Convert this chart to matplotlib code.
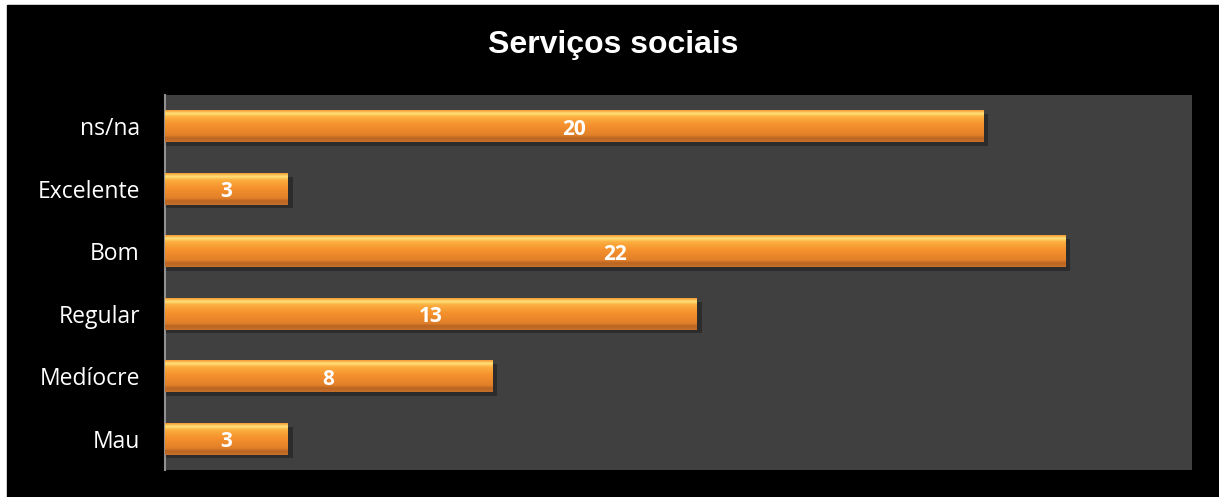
import numpy as np
import matplotlib.pyplot as plt
from matplotlib.colors import LinearSegmentedColormap
from matplotlib.patches import Rectangle

plt.rcParams['font.family'] = ['Open Sans', 'DejaVu Sans']

categories = ['Mau', 'Medíocre', 'Regular', 'Bom', 'Excelente', 'ns/na']
values = [3, 8, 13, 22, 3, 20]
title = 'Serviços sociais'

fig = plt.figure(figsize=(12.19, 4.97), dpi=100, facecolor='white')
fig.patches.append(Rectangle((7 / 1219, 0), 1 - 7 / 1219, 1 - 5 / 497,
                             transform=fig.transFigure, color='black', zorder=-10))
ax = fig.add_axes([165 / 1219, 27 / 497, 1027 / 1219, 375 / 497])
ax.set_facecolor('#404040')

# vertical gradient for the bevelled bars (top -> bottom)
grad = LinearSegmentedColormap.from_list('bar', [
    (0.0, '#c8702a'), (0.12, '#b96522'), (0.2, '#e07f28'),
    (0.55, '#f7922e'), (0.8, '#fbb040'), (0.9, '#ffe27a'), (1.0, '#f59a35')])
g = np.linspace(0, 1, 64).reshape(-1, 1)

h = 0.51
y = np.arange(len(categories))
for yi, v in zip(y, values):
    # shadow
    ax.add_patch(Rectangle((0, yi - h / 2 - 0.06), v + 0.12, h, color='black',
                           alpha=0.3, lw=0, zorder=1))
    bar = ax.barh(yi, v, height=h, color='#f7922e', zorder=2)[0]
    im = ax.imshow(g, cmap=grad, aspect='auto', origin='lower',
                   extent=(0, v, yi - h / 2, yi + h / 2), zorder=3)
    im.set_clip_path(bar)
    ax.text(v / 2, yi - 0.05, str(v), ha='center', va='center', color='white',
            fontsize=15, fontweight='bold', zorder=4)

ax.set_xlim(0, 25.1)
ax.set_ylim(-0.5, len(categories) - 0.5)
ax.set_yticks(y)
ax.set_yticklabels(categories, color='white', fontsize=16.5)
ax.set_xticks([])
ax.tick_params(axis='y', length=0, pad=18)
for s in ['top', 'right', 'bottom']:
    ax.spines[s].set_visible(False)
ax.spines['left'].set_color('#909090')
ax.spines['left'].set_linewidth(1.5)

fig.text(613 / 1219, 1 - 45 / 497, title, ha='center', va='center',
         color='white', fontsize=23, fontweight='bold', family='Liberation Sans')

fig.savefig('out.png', dpi=100, facecolor=fig.get_facecolor())
